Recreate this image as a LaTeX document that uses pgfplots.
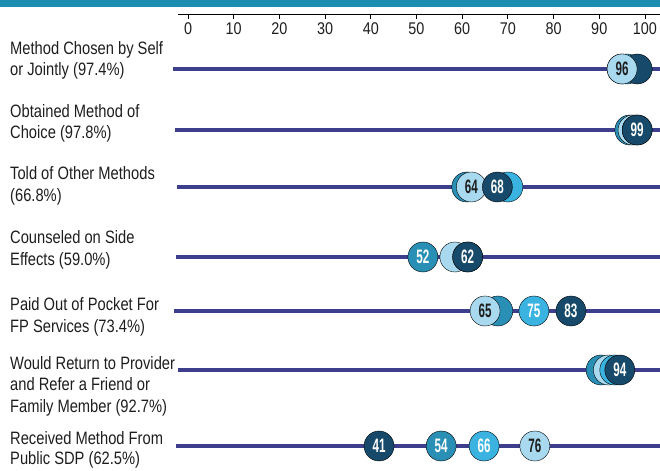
\documentclass[border=0pt]{standalone}
\usepackage{fontspec}
\setmainfont{Liberation Sans}[FakeStretch=0.82]
\newfontfamily\numfont{Liberation Sans}[FakeStretch=0.6]
\newfontfamily\tickfont{Liberation Sans}[FakeStretch=0.85]
\usepackage{pgfplots}
\pgfplotsset{compat=1.18}
\definecolor{navyc}{HTML}{174A6A}
\definecolor{tealc}{HTML}{2A8FB5}
\definecolor{brightc}{HTML}{3AB3E0}
\definecolor{lightc}{HTML}{A8D9EF}
\definecolor{linec}{HTML}{3E3F8C}
\definecolor{bandc}{HTML}{1B8DB0}
\definecolor{txtc}{HTML}{1E1E1E}
\begin{document}
\begin{tikzpicture}[x=1bp,y=1bp]
\path[use as bounding box] (0,0) rectangle (660,471);
\fill[bandc] (0,464) rectangle (660,471);
\begin{axis}[
  at={(178bp,0bp)}, anchor=south west,
  scale only axis, width=482bp, height=457bp,
  xmin=-2.2, xmax=103.3, ymin=-471, ymax=-14,
  axis x line*=top, axis y line=none,
  axis line style={black, line width=0.8bp},
  xtick={0,10,...,100}, tick align=inside, major tick length=5bp,
  tick style={black, line width=0.8bp},
  xticklabel style={anchor=north, yshift=-5bp, font=\tickfont\fontsize{17}{17}\selectfont, text=txtc},
  /pgf/number format/assume math mode=true,
  clip=false,
  mark size=15bp,
  point meta=explicit,
  every node near coord/.append style={anchor=center, font=\numfont\bfseries\fontsize{19.5}{19.5}\selectfont},
]
% row lines
\addplot[linec, line width=4bp] coordinates {(-3.4,-69) (103.3,-69)};
\addplot[linec, line width=4bp] coordinates {(-2.8,-130) (103.3,-130)};
\addplot[linec, line width=4bp] coordinates {(-2.5,-187) (103.3,-187)};
\addplot[linec, line width=4bp] coordinates {(-2.7,-257) (103.3,-257)};
\addplot[linec, line width=4bp] coordinates {(-3.0,-311) (103.3,-311)};
\addplot[linec, line width=4bp] coordinates {(-2.2,-370) (103.3,-370)};
\addplot[linec, line width=4bp] coordinates {(-2.7,-446) (103.3,-446)};
% background (partly hidden) circles
\addplot[only marks, mark=*, mark options={fill=tealc, draw=none}] coordinates {(95,-69) (96.7,-130) (61,-187) (67.8,-311) (90.4,-370)};
\addplot[only marks, mark=*, mark options={fill=lightc, draw=none}] coordinates {(97.4,-130) (58.4,-257) (92,-370)};
\addplot[only marks, mark=*, mark options={fill=brightc, draw=none}] coordinates {(96,-69) (98.3,-130) (70,-187) (61.2,-257) (93.4,-370)};
\addplot[only marks, mark=*, mark options={fill=navyc, draw=none}] coordinates {(98.3,-69)};
% labelled circles (label = value, position as drawn)
\addplot[only marks, mark=*, mark options={fill=tealc, draw=none}, nodes near coords, every node near coord/.append style={text=white}] coordinates {(51.4,-257) [52] (55.4,-446) [54]};
\addplot[only marks, mark=*, mark options={fill=lightc, draw=none}, nodes near coords, every node near coord/.append style={text=txtc}] coordinates {(95,-69) [96] (62,-187) [64] (65,-311) [65] (75.9,-446) [76]};
\addplot[only marks, mark=*, mark options={fill=brightc, draw=none}, nodes near coords, every node near coord/.append style={text=white}] coordinates {(75.7,-311) [75] (64.8,-446) [66]};
\addplot[only marks, mark=*, mark options={fill=navyc, draw=none}, nodes near coords, every node near coord/.append style={text=white}] coordinates {(98.3,-130) [99] (67.7,-187) [68] (61.2,-257) [62] (83.8,-311) [83] (94.5,-370) [94] (41.8,-446) [41]};
\end{axis}
\begin{scope}[every node/.style={anchor=base west, inner sep=0pt, text=txtc, font=\fontsize{18}{18}\selectfont}]
\node at (10,471-54.5) {Method Chosen by Self};
\node at (10,471-75.5) {or Jointly (97.4\%)};
\node at (10,471-117.5) {Obtained Method of};
\node at (10,471-138.5) {Choice (97.8\%)};
\node at (10,471-180) {Told of Other Methods};
\node at (10,471-202) {(66.8\%)};
\node at (10,471-244) {Counseled on Side};
\node at (10,471-265.5) {Effects (59.0\%)};
\node at (10,471-311) {Paid Out of Pocket For};
\node at (10,471-333) {FP Services (73.4\%)};
\node at (10,471-370) {Would Return to Provider};
\node at (10,471-391) {and Refer a Friend or};
\node at (10,471-412.5) {Family Member (92.7\%)};
\node at (10,471-445) {Received Method From};
\node at (10,471-465) {Public SDP (62.5\%)};
\end{scope}
\end{tikzpicture}
\end{document}
